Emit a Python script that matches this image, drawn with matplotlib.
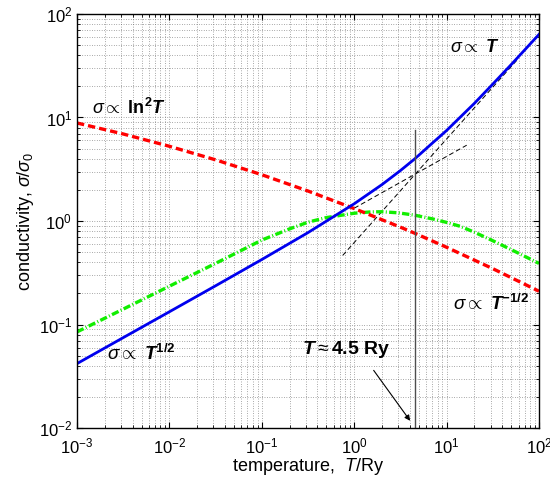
# conductivity vs temperature, log-log with asymptotes
from matplotlib import pyplot as plt
import numpy as np

plt.rcParams['font.family'] = ['Liberation Sans', 'DejaVu Sans']
plt.rcParams['mathtext.fontset'] = 'custom'
plt.rcParams['mathtext.rm'] = 'Liberation Sans'
plt.rcParams['mathtext.it'] = 'Liberation Sans:italic'
plt.rcParams['mathtext.bf'] = 'Liberation Sans:bold'
plt.rcParams['mathtext.bfit'] = 'Liberation Sans:bold:italic'
plt.rcParams['mathtext.sf'] = 'Liberation Sans'

# values
T_blue = [1e-3, 3.16e-3, 1e-2, 3.16e-2, 0.1, 0.316, 1, 2, 3.16, 4.5, 7, 10, 20, 31.6, 50, 100]
sigma_blue = [0.042, 0.0748, 0.133, 0.237, 0.425, 0.773, 1.468, 2.25, 3.07, 3.97, 5.65,
              7.49, 13.7, 21.0, 32.4, 63.4]

T_red = [1e-3, 3.16e-3, 1e-2, 3.16e-2, 0.1, 0.316, 1, 3.16, 4.5, 10, 31.6, 100]
sigma_red = [8.85, 6.93, 5.27, 3.90, 2.80, 1.95, 1.32, 0.873, 0.764, 0.558, 0.347, 0.21]

T_green = [1e-3, 3.16e-3, 1e-2, 3.16e-2, 0.1, 0.2, 0.316, 0.5, 1, 1.5, 2, 3, 4.5, 7,
           10, 14, 20, 30, 50, 100]
sigma_green = [0.085, 0.141, 0.235, 0.39, 0.655, 0.84, 0.975, 1.08, 1.19, 1.225, 1.23,
               1.2, 1.14, 1.05, 0.97, 0.89, 0.78, 0.66, 0.53, 0.39]

# asymptotes (end points)
T_half = [1.0, 16.5]
sigma_half = [1.33, 5.4]
T_lin = [0.75, 60]
sigma_lin = [0.465, 37.2]

T_mark = 4.5
mark_top = 7.6

fig = plt.figure(figsize=(5.5, 4.8), dpi=100)
ax = fig.add_axes([0.14, 0.108, 0.84, 0.863])

ax.plot(T_half, sigma_half, color='k', lw=0.7, dashes=(5, 3))
ax.plot(T_lin, sigma_lin, color='k', lw=0.7, dashes=(5, 3))
ax.plot(T_green, sigma_green, color='#11ee00', lw=2.4, dashes=(2.2, 0.7, 0.3, 0.7))
ax.plot(T_red, sigma_red, color='#ff0000', lw=2.4, dashes=(2.2, 1.2))
ax.plot(T_blue, sigma_blue, color='#0000ee', lw=2.0)
ax.plot([T_mark, T_mark], [1e-2, mark_top], color='0.3', lw=1.0)

ax.set_xscale('log')
ax.set_yscale('log')
ax.set_xlim(1e-3, 1e2)
ax.set_ylim(1e-2, 1e2)

ax.grid(True, which='both', color='0.35', linestyle=(0, (1, 2.5)), lw=0.5)
ax.tick_params(which='both', direction='in', top=True, right=True, labelsize=12)
ax.tick_params(axis='x', which='both', pad=6)
ax.tick_params(which='major', length=4)
ax.tick_params(which='minor', length=2)
for s in ax.spines.values():
    s.set_linewidth(1.0)

ax.set_xlabel(r'temperature,  $\mathit{T}$/Ry', fontsize=13, labelpad=0)
ax.set_ylabel(r'conductivity, $\sigma/\sigma_0$', fontsize=13, labelpad=2)

ax.text(1.45e-3, 12.3, r'$\sigma\propto\ \mathbf{ln}^{\mathbf{2}}\mathbfit{T}$', fontsize=13,
        va='center', ha='left')
ax.text(10.9, 47, r'$\sigma\propto\ \mathbfit{T}$', fontsize=13, va='center', ha='left')
ax.text(2.1e-3, 0.052, r'$\sigma\propto\ \mathbfit{T}^{\mathbf{1/2}}$', fontsize=13.5,
        va='center', ha='left')
ax.text(11.6, 0.16, r'$\sigma\propto\ \mathbfit{T}^{\mathbf{-1/2}}$', fontsize=13.5,
        va='center', ha='left')
ax.text(0.27, 0.058, r'$\mathbfit{T}\approx\mathbf{4.5\ Ry}$', fontsize=14,
        va='center', ha='left')
ax.annotate('', xy=(4.2, 0.0112), xytext=(1.56, 0.038),
            arrowprops=dict(arrowstyle='-|>', color='k', lw=0.8, mutation_scale=8))

fig.savefig('out.png', dpi=100)
